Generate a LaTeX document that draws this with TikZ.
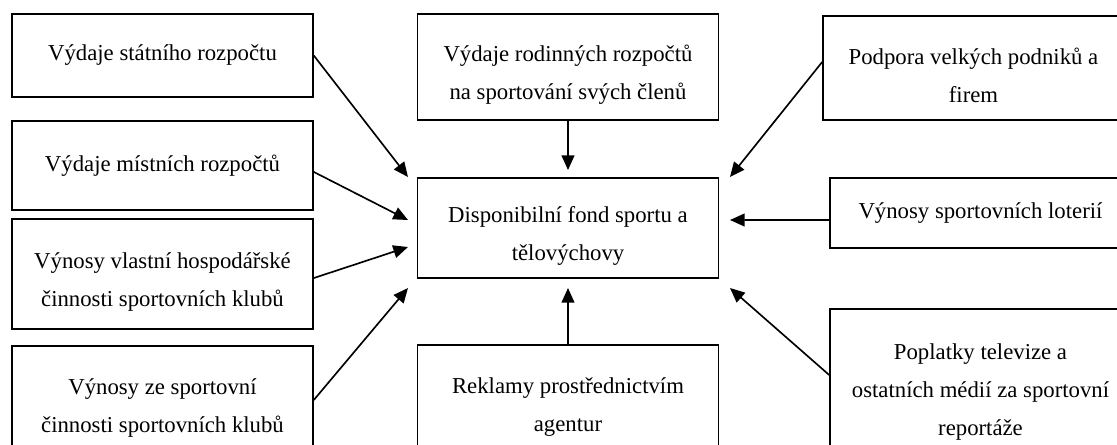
\documentclass[tikz,border=0pt]{standalone}
\usepackage{fontspec}
\setmainfont{Liberation Serif}
\usetikzlibrary{arrows.meta}
\newcommand{\topgap}{\rule{0pt}{17pt}}

\begin{document}
\begin{tikzpicture}[x=0.545pt, y=-0.545pt]
    \path[use as bounding box] (0,0) rectangle (1117,444);
    \clip (0,0) rectangle (1117,444);

    \begin{scope}[every node/.style={draw, line width=0.9pt, minimum width=164pt,
        inner sep=0pt, align=center, font=\fontsize{12.4pt}{20.7pt}\selectfont}]
        % left column
        \node[minimum height=45.2pt] (L1) at (162.5,55.5) {Výdaje státního rozpočtu};
        \node[minimum height=48.5pt] (L2) at (162.5,165.5) {Výdaje místních rozpočtů};
        \node[minimum height=60pt] (L3) at (162.5,274) {\topgap Výnosy vlastní hospodářské\\činnosti sportovních klubů};
        \node[minimum height=58.9pt] (L4) at (162.5,400) {\topgap Výnosy ze sportovní\\činnosti sportovních klubů};
        % middle column
        \node[minimum height=57.8pt] (C1) at (568,67) {\topgap Výdaje rodinných rozpočtů\\na sportování svých členů};
        \node[minimum height=54.5pt] (fond) at (568,228) {\topgap Disponibilní fond sportu a\\tělovýchovy};
        \node[minimum height=58.9pt] (C3) at (568,399) {\topgap Reklamy prostřednictvím\\agentur};
        % right column
        \node[minimum height=56.7pt] (R1) at (973.5,68) {\topgap Podpora velkých podniků a\\firem};
        \node[minimum height=38.2pt] (R2) at (980.5,213) {Výnosy sportovních loterií};
        \node[minimum height=81.8pt] (R3) at (980.5,384) {\topgap Poplatky televize a\\ostatních médií za sportovní\\reportáže};
    \end{scope}

    \begin{scope}[>={Triangle[length=8pt, width=7pt]},
        every edge/.style={draw=black, line width=0.9pt}]
        \coordinate (t1) at (408,177);
        \coordinate (t2) at (408,220);
        \coordinate (t3) at (408,247);
        \coordinate (t4) at (408,288);
        \coordinate (t5) at (568,170);
        \coordinate (t6) at (568,288);
        \coordinate (t7) at (730,177);
        \coordinate (t8) at (730,220);
        \coordinate (t9) at (730,288);
        \path [->] (L1.east) edge (t1);
        \path [->] ([yshift=-3.5pt]L2.east) edge (t2);
        \path [->] ([yshift=-2.2pt]L3.east) edge (t3);
        \path [->] (L4.east) edge (t4);
        \path [->] (C1.south) edge (t5);
        \path [->] (C3.north) edge (t6);
        \path [->] ([yshift=3.3pt]R1.west) edge (t7);
        \path [->] ([yshift=-3.8pt]R2.west) edge (t8);
        \path [->] ([yshift=4.9pt]R3.west) edge (t9);
    \end{scope}
\end{tikzpicture}
\end{document}
